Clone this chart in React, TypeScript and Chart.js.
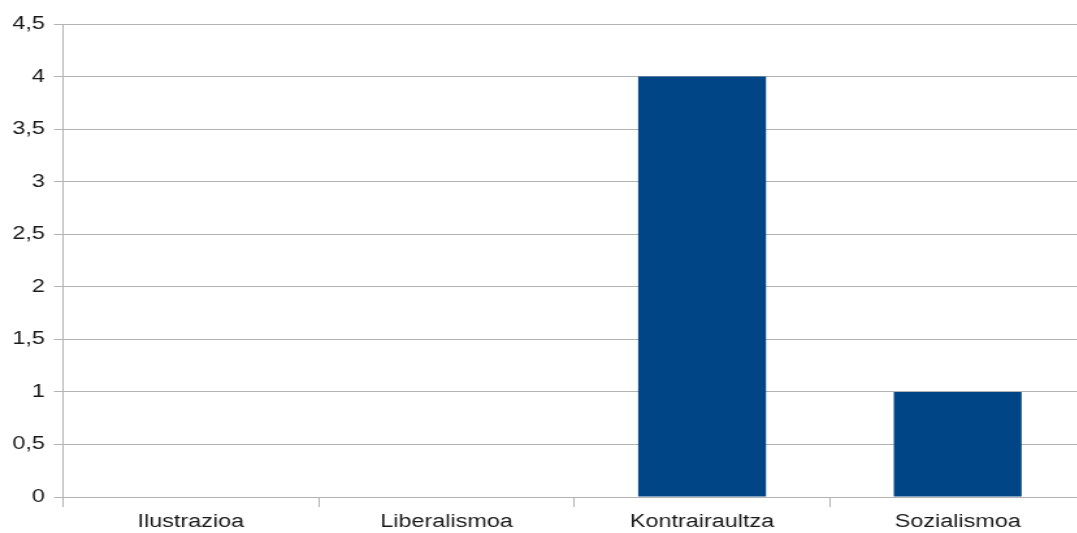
import React, { useEffect, useRef } from "react";
import { Chart, registerables } from "chart.js";

Chart.register(...registerables);

const categories = ["Ilustrazioa", "Liberalismoa", "Kontrairaultza", "Sozialismoa"];
const seriesValues = [0, 0, 4, 1];
const yMin = 0;
const yMax = 4.5;
const yStep = 0.5;

// the reference picture is stretched horizontally; reproduce with a CSS scale
const STRETCH = 1.3;
const CANVAS_W = 835;
const CANVAS_H = 533;

export default function App() {
  const ref = useRef<HTMLCanvasElement | null>(null);

  useEffect(() => {
    if (!ref.current) return;
    document.body.style.margin = "0";
    const chart = new Chart(ref.current, {
      type: "bar",
      data: {
        labels: categories,
        datasets: [
          {
            data: seriesValues,
            backgroundColor: "#004586",
            borderWidth: 0,
            barPercentage: 0.5,
            categoryPercentage: 1,
          },
        ],
      },
      options: {
        animation: false,
        responsive: false,
        maintainAspectRatio: false,
        layout: { padding: { top: 24, left: 0, right: 0, bottom: 0 } },
        plugins: { legend: { display: false }, tooltip: { enabled: false } },
        scales: {
          x: {
            grid: {
              offset: true,
              drawOnChartArea: false,
              drawTicks: true,
              tickLength: 10,
              color: "#b3b3b3",
              lineWidth: 1,
            },
            border: { display: false },
            ticks: {
              color: "#1a1a1a",
              font: { family: "'Liberation Sans', Arial, sans-serif", size: 18 },
              padding: 4,
              maxRotation: 0,
              autoSkip: false,
            },
            afterFit: (scale: any) => {
              scale.height = 36;
            },
          },
          y: {
            min: yMin,
            max: yMax,
            grid: {
              color: "#b3b3b3",
              lineWidth: 1,
              tickLength: 7,
            },
            border: { display: true, color: "#b3b3b3", width: 1 },
            ticks: {
              stepSize: yStep,
              color: "#1a1a1a",
              font: { family: "'Liberation Sans', Arial, sans-serif", size: 18 },
              padding: 7,
              callback: (v: any) => String(v).replace(".", ","),
            },
            afterFit: (scale: any) => {
              scale.width = 48.5;
            },
          },
        },
      },
    });
    return () => chart.destroy();
  }, []);

  return (
    <div style={{ position: "absolute", left: 0, top: 0, width: 1077, height: 533, overflow: "hidden", background: "#fff" }}>
      <canvas
        ref={ref}
        width={CANVAS_W}
        height={CANVAS_H}
        style={{
          display: "block",
          width: CANVAS_W,
          height: CANVAS_H,
          transform: `scale(${STRETCH}, 1)`,
          transformOrigin: "0 0",
        }}
      />
    </div>
  );
}
